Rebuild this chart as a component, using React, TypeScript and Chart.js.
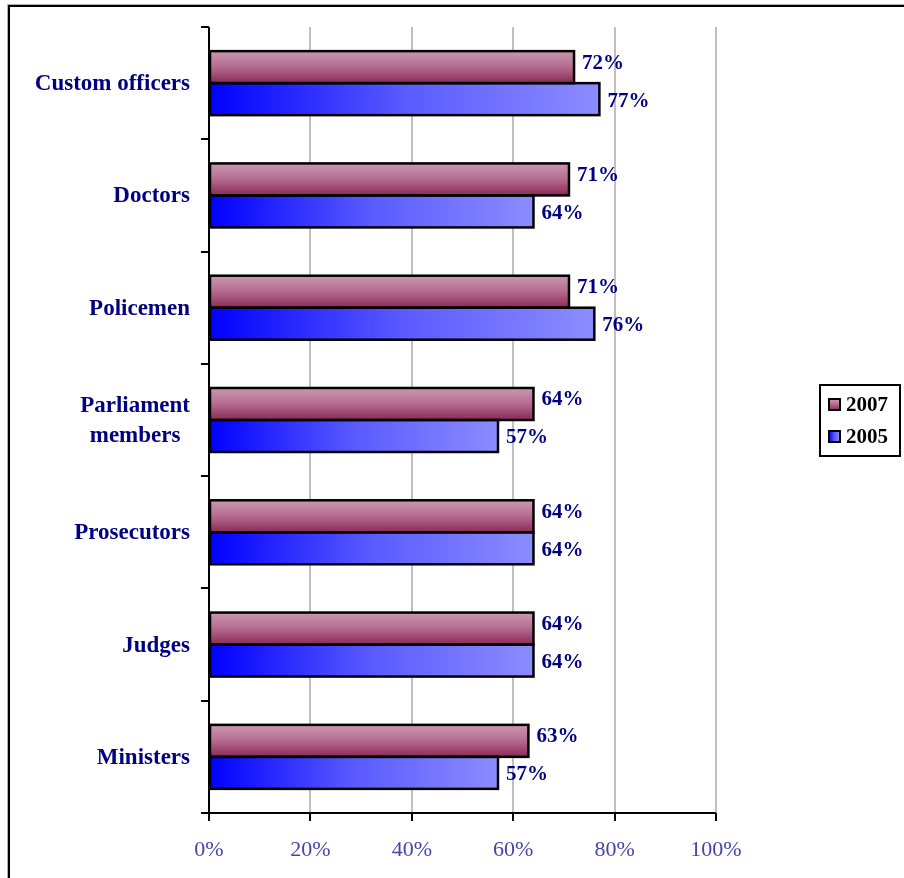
import React, { useEffect, useRef } from "react";
import { Chart, registerables } from "chart.js";

Chart.register(...registerables);

const categories = [
  "Custom officers",
  "Doctors",
  "Policemen",
  "Parliament members",
  "Prosecutors",
  "Judges",
  "Ministers",
];
const categoryLines: string[][] = [
  ["Custom officers"],
  ["Doctors"],
  ["Policemen"],
  ["Parliament", "members"],
  ["Prosecutors"],
  ["Judges"],
  ["Ministers"],
];
const values2007 = [72, 71, 71, 64, 64, 64, 63];
const values2005 = [77, 64, 76, 57, 64, 64, 57];
const seriesNames = ["2007", "2005"];
const xTicks = [0, 20, 40, 60, 80, 100];

const FONT = "'Liberation Serif', 'Times New Roman', serif";
const NAVY = "#000080";
const CAT_PCT = 0.57;

const ok = (...v: number[]) => v.every((n) => Number.isFinite(n));

function grad2007(ctx: CanvasRenderingContext2D, top: number, bottom: number) {
  if (!ok(top, bottom)) return "#b67192";
  const g = ctx.createLinearGradient(0, top, 0, bottom);
  g.addColorStop(0, "#cc96b0");
  g.addColorStop(0.45, "#b67192");
  g.addColorStop(1, "#8c2a58");
  return g;
}
function grad2005(ctx: CanvasRenderingContext2D, left: number, right: number) {
  if (!ok(left, right)) return "#5a5aff";
  const g = ctx.createLinearGradient(left, 0, right, 0);
  g.addColorStop(0, "#0000ff");
  g.addColorStop(0.5, "#5a5aff");
  g.addColorStop(1, "#8c8cff");
  return g;
}

const framePlugin = {
  id: "frame",
  beforeDraw(chart: any) {
    const ctx = chart.ctx;
    ctx.save();
    ctx.fillStyle = "#ffffff";
    ctx.fillRect(0, 0, chart.width, chart.height);
    ctx.strokeStyle = "#b0b0b0";
    ctx.lineWidth = 1;
    ctx.beginPath();
    ctx.moveTo(7.5, chart.height + 5);
    ctx.lineTo(7.5, 4.5);
    ctx.lineTo(chart.width + 5, 4.5);
    ctx.stroke();
    ctx.strokeStyle = "#000000";
    ctx.lineWidth = 2;
    ctx.beginPath();
    ctx.moveTo(9, chart.height + 5);
    ctx.lineTo(9, 6);
    ctx.lineTo(chart.width + 5, 6);
    ctx.stroke();
    ctx.restore();
  },
};

const axesPlugin = {
  id: "axesCustom",
  afterDatasetsDraw(chart: any) {
    const ctx = chart.ctx;
    const { left, right, top, bottom } = chart.chartArea;
    const xs = chart.scales.x;
    const n = categories.length;
    const slot = (bottom - top) / n;
    ctx.save();
    // bar outlines
    ctx.strokeStyle = "#000";
    ctx.lineWidth = 2.5;
    chart.data.datasets.forEach((_ds: any, di: number) => {
      const meta = chart.getDatasetMeta(di);
      meta.data.forEach((el: any) => {
        const h = el.height;
        ctx.strokeRect(el.base, el.y - h / 2, el.x - el.base, h);
      });
    });
    ctx.lineWidth = 2;
    ctx.beginPath();
    ctx.moveTo(left, top);
    ctx.lineTo(left, bottom + 8);
    ctx.stroke();
    for (let i = 0; i <= n; i++) {
      const y = Math.round(top + i * slot);
      ctx.beginPath();
      ctx.moveTo(left - 8, y);
      ctx.lineTo(left, y);
      ctx.stroke();
    }
    ctx.beginPath();
    ctx.moveTo(left - 8, bottom);
    ctx.lineTo(right, bottom);
    ctx.stroke();
    xTicks.forEach((v) => {
      const x = Math.round(xs.getPixelForValue(v));
      ctx.beginPath();
      ctx.moveTo(x, bottom);
      ctx.lineTo(x, bottom + 8);
      ctx.stroke();
    });
    ctx.restore();
  },
};

const labelsPlugin = {
  id: "labelsCustom",
  afterDraw(chart: any) {
    const ctx = chart.ctx;
    const { left, top, bottom } = chart.chartArea;
    const n = categories.length;
    const slot = (bottom - top) / n;
    ctx.save();
    ctx.fillStyle = NAVY;
    ctx.font = `bold 23px ${FONT}`;
    ctx.textBaseline = "middle";
    categoryLines.forEach((lines, i) => {
      const cy = top + (i + 0.5) * slot + 1;
      const widths = lines.map((l) => ctx.measureText(l).width);
      const maxW = Math.max(...widths);
      const cx = left - 19 - maxW / 2;
      const lh = 30;
      lines.forEach((l, j) => {
        const y = cy + (j - (lines.length - 1) / 2) * lh;
        ctx.textAlign = "center";
        ctx.fillText(l, cx, y);
      });
    });
    ctx.font = `bold 21px ${FONT}`;
    ctx.textAlign = "left";
    const offsets = [-4, 2];
    chart.data.datasets.forEach((ds: any, di: number) => {
      const meta = chart.getDatasetMeta(di);
      meta.data.forEach((el: any, i: number) => {
        ctx.fillText(ds.data[i] + "%", el.x + 8, el.y + offsets[di]);
      });
    });
    const bx = 820, by = 385, bw = 80, bh = 71;
    ctx.fillStyle = "#fff";
    ctx.fillRect(bx, by, bw, bh);
    ctx.strokeStyle = "#000";
    ctx.lineWidth = 2;
    ctx.strokeRect(bx, by, bw, bh);
    ctx.font = `bold 21px ${FONT}`;
    seriesNames.forEach((name, i) => {
      const sy = by + 14 + i * 32;
      const sx = 829;
      ctx.fillStyle = i === 0 ? grad2007(ctx, sy, sy + 11) : grad2005(ctx, sx, sx + 11);
      ctx.fillRect(sx, sy, 11, 11);
      ctx.strokeStyle = "#000";
      ctx.lineWidth = 2;
      ctx.strokeRect(sx, sy, 11, 11);
      ctx.fillStyle = "#000";
      ctx.textAlign = "left";
      ctx.fillText(name, 846, sy + 7);
    });
    ctx.restore();
  },
};

export default function App() {
  const ref = useRef<HTMLCanvasElement | null>(null);
  useEffect(() => {
    if (!ref.current) return;
    const barRect = (chart: any, dataIndex: number, datasetIndex: number) => {
      const area = chart.chartArea;
      const ys = chart.scales.y;
      if (!area || !ys || dataIndex === undefined) return null;
      const slot = (area.bottom - area.top) / categories.length;
      const cy = ys.getPixelForValue(dataIndex);
      const h = (slot * CAT_PCT) / 2;
      const top = datasetIndex === 0 ? cy - h : cy;
      if (!ok(top, h)) return null;
      return { top, bottom: top + h };
    };
    const chart = new Chart(ref.current, {
      type: "bar",
      data: {
        labels: categories,
        datasets: [
          {
            label: seriesNames[0],
            data: values2007,
            backgroundColor: (c: any) => {
              const r = barRect(c.chart, c.dataIndex, 0);
              if (!r) return "#b67192";
              return grad2007(c.chart.ctx, r.top, r.bottom);
            },
            borderWidth: 0,
            inflateAmount: 0,
          },
          {
            label: seriesNames[1],
            data: values2005,
            backgroundColor: (c: any) => {
              const xs = c.chart.scales.x;
              if (!xs || c.dataIndex === undefined) return "#5a5aff";
              const l = xs.getPixelForValue(0);
              const r = xs.getPixelForValue(values2005[c.dataIndex]);
              return grad2005(c.chart.ctx, l, r);
            },
            borderWidth: 0,
            inflateAmount: 0,
          },
        ],
      },
      options: {
        indexAxis: "y",
        animation: false,
        responsive: false,
        maintainAspectRatio: false,
        layout: { padding: { top: 27, right: 188, left: 0, bottom: 0 } },
        datasets: {
          bar: { categoryPercentage: CAT_PCT, barPercentage: 1 },
        },
        plugins: {
          legend: { display: false },
          tooltip: { enabled: false },
        },
        scales: {
          x: {
            type: "linear",
            min: 0,
            max: 100,
            position: "bottom",
            afterBuildTicks: (s: any) => {
              s.ticks = xTicks.map((v) => ({ value: v }));
            },
            afterFit: (s: any) => {
              s.height = 65;
            },
            ticks: {
              callback: (v: any) => v + "%",
              font: { family: FONT, size: 22 },
              color: "#4646a8",
              padding: 24,
            },
            grid: {
              color: (c: any) => (c.tick && c.tick.value === 0 ? "rgba(0,0,0,0)" : "#c0c0c0"),
              lineWidth: 2,
              drawTicks: false,
            },
            border: { display: false },
          },
          y: {
            type: "category",
            afterFit: (s: any) => {
              s.width = 209;
            },
            ticks: { display: false },
            grid: { display: false, drawTicks: false },
            border: { display: false },
          },
        },
      },
      plugins: [framePlugin, axesPlugin, labelsPlugin],
    } as any);
    return () => chart.destroy();
  }, []);
  return (
    <div style={{ position: "absolute", left: 0, top: 0, width: 904, height: 878 }}>
      <canvas ref={ref} width={904} height={878} style={{ display: "block" }} />
    </div>
  );
}
